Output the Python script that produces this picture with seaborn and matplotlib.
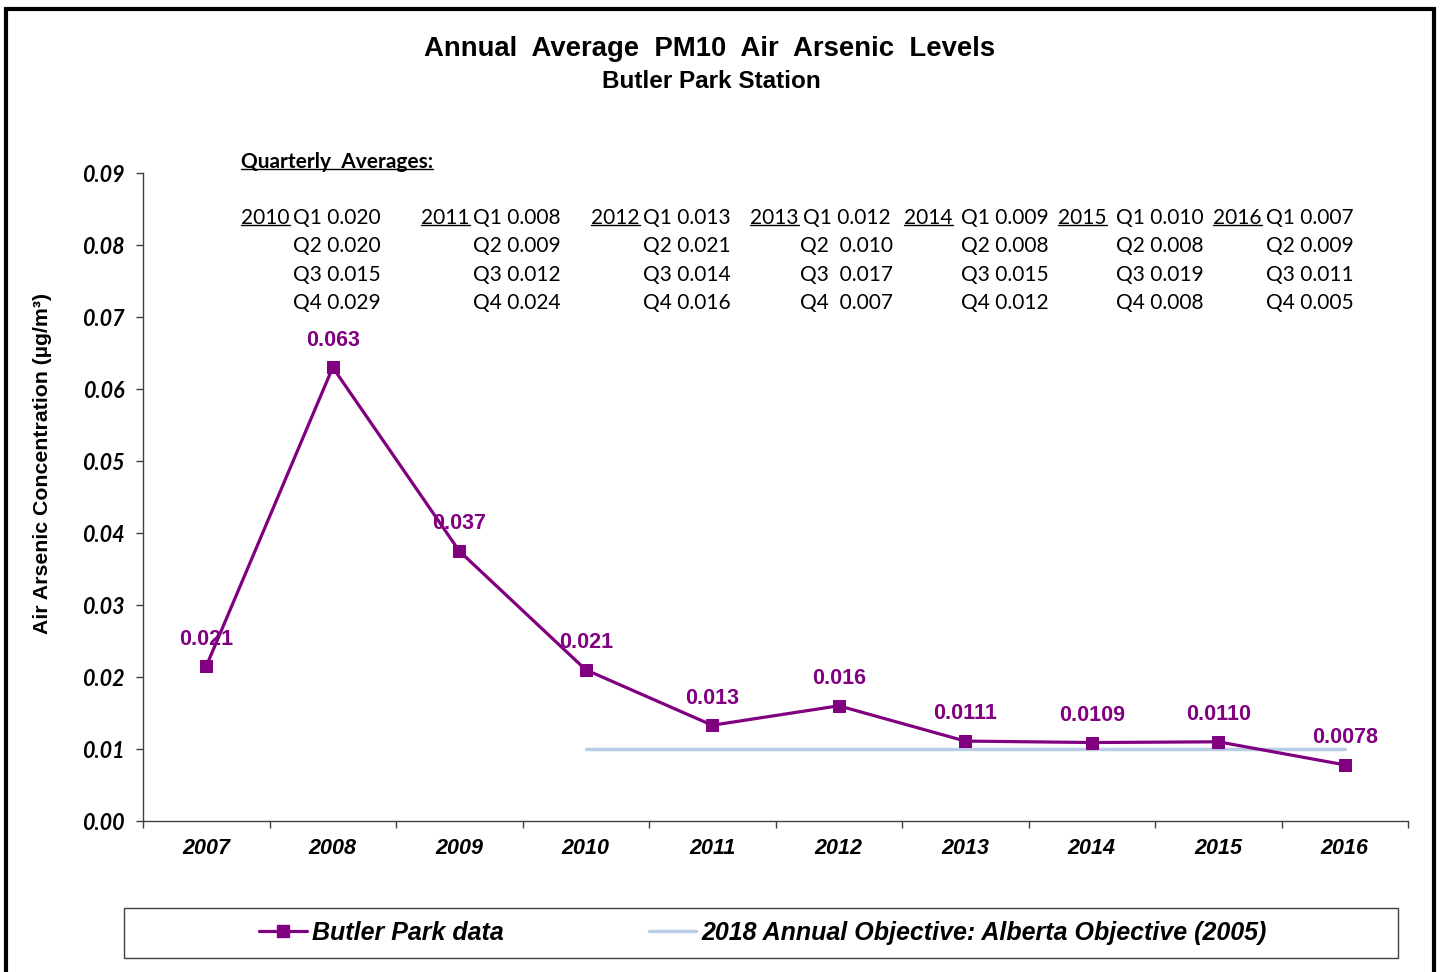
import matplotlib
matplotlib.use("Agg")
import matplotlib.pyplot as plt
from matplotlib import font_manager
from matplotlib.lines import Line2D
from matplotlib.patches import Rectangle
import numpy as np
import pandas as pd
import seaborn as sns

# annual averages (ug/m3)
years = ["2007", "2008", "2009", "2010", "2011", "2012", "2013", "2014", "2015", "2016"]
arsenic = [0.0215, 0.063, 0.0375, 0.021, 0.0133, 0.016, 0.0111, 0.0109, 0.0110, 0.0078]
point_labels = ["0.021", "0.063", "0.037", "0.021", "0.013", "0.016",
                "0.0111", "0.0109", "0.0110", "0.0078"]

objective_years = ["2010", "2011", "2012", "2013", "2014", "2015", "2016"]
objective_values = [0.01, 0.01, 0.01, 0.01, 0.01, 0.01, 0.01]

# quarterly averages shown as text
quarter_years = ["2010", "2011", "2012", "2013", "2014", "2015", "2016"]
q1 = ["Q1 0.020", "Q1 0.008", "Q1 0.013", "Q1 0.012", "Q1 0.009", "Q1 0.010", "Q1 0.007"]
q2 = ["Q2 0.020", "Q2 0.009", "Q2 0.021", "Q2  0.010", "Q2 0.008", "Q2 0.008", "Q2 0.009"]
q3 = ["Q3 0.015", "Q3 0.012", "Q3 0.014", "Q3  0.017", "Q3 0.015", "Q3 0.019", "Q3 0.011"]
q4 = ["Q4 0.029", "Q4 0.024", "Q4 0.016", "Q4  0.007", "Q4 0.012", "Q4 0.008", "Q4 0.005"]

PURPLE = "#800080"
OBJ_BLUE = "#B9CDE5"
W, H = 1440, 972

sns.set_theme(style="ticks")
plt.rcParams["font.family"] = ["Liberation Sans", "DejaVu Sans"]
plt.rcParams.update({"text.color": "black", "axes.labelcolor": "black",
                     "xtick.color": "black", "ytick.color": "black"})

installed = {f.name for f in font_manager.fontManager.ttflist}
narrow = "Liberation Sans Narrow" if "Liberation Sans Narrow" in installed else "Liberation Sans"


def fx(px):
    return px / W


def fy(py):
    return 1 - py / H


data = pd.DataFrame({"pos": np.arange(len(years)), "value": arsenic})
obj = pd.DataFrame({"pos": [years.index(y) for y in objective_years], "value": objective_values})

fig = plt.figure(figsize=(14.4, 9.72), dpi=100)
ax = fig.add_axes([fx(143), fy(821), (1408 - 143) / W, (821 - 173) / H])

sns.lineplot(data=obj, x="pos", y="value", color=OBJ_BLUE, linewidth=2.5, ax=ax)
sns.lineplot(data=data, x="pos", y="value", color=PURPLE, linewidth=2.3, marker="s",
             markersize=8.5, markeredgecolor=PURPLE, ax=ax)

for i, (v, lab) in enumerate(zip(arsenic, point_labels)):
    ax.annotate(lab, (i, v), xytext=(0, 19.5), textcoords="offset points", ha="center",
                va="center", color=PURPLE, fontsize=15.5, fontweight="bold")

ax.set_xlim(-0.5, len(years) - 0.5)
ax.set_ylim(0, 0.09)
ax.set_xticks(range(len(years)))
ax.set_xticklabels(years, fontsize=15.5, fontweight="bold", fontstyle="italic")
ax.set_xticks(np.arange(-0.5, len(years)), minor=True)
ax.tick_params(axis="x", which="major", length=0, pad=12)
ax.tick_params(axis="x", which="minor", length=5, width=1, color="#404040", direction="out")

yticks = np.arange(0, 0.091, 0.01)
ax.set_yticks(yticks)
ax.set_yticklabels([f"{t:.2f}" for t in yticks], fontfamily="Lato", fontweight="bold",
                   fontstyle="italic", fontsize=15.5)
ax.tick_params(axis="y", length=5, width=1, color="#404040", direction="out", pad=8)

sns.despine(ax=ax)
for s in ["left", "bottom"]:
    ax.spines[s].set_color("#404040")
    ax.spines[s].set_linewidth(1)

ax.set_xlabel("")
ax.set_ylabel("Air Arsenic Concentration (µg/m³)", fontsize=15.3, fontweight="bold")
ax.yaxis.set_label_coords(-0.072, 0.552)

fig.text(fx(710), fy(49), "Annual  Average  PM10  Air  Arsenic  Levels", ha="center",
         va="center", fontsize=19.8, fontweight="bold")
fig.text(fx(711), fy(81), "Butler Park Station", ha="center", va="center",
         fontsize=17.5, fontweight="bold")

underlined = []
header = fig.text(fx(241), fy(162), "Quarterly  Averages:", ha="left", va="center",
                  fontfamily="Lato", fontweight="bold", fontsize=15)
underlined.append(header)

year_x = [241, 421, 591, 750, 904, 1058, 1213]
q_x = [293, 473, 643, 800, 961, 1116, 1266]
row_y = [218, 246, 275, 303]
for k, yr in enumerate(quarter_years):
    t = fig.text(fx(year_x[k]), fy(row_y[0]), yr, ha="left", va="center",
                 fontfamily="Lato", fontsize=15)
    underlined.append(t)
    for r, rows in enumerate([q1, q2, q3, q4]):
        x_off = 3 if (k == 3 and r == 0) else 0
        fig.text(fx(q_x[k] + x_off), fy(row_y[r]), rows[k], ha="left", va="center",
                 fontfamily="Lato", fontsize=15)

fig.canvas.draw()
renderer = fig.canvas.get_renderer()
for t in underlined:
    bb = t.get_window_extent(renderer)
    y0 = bb.y0 + 0.17 * bb.height
    fig.add_artist(Line2D([bb.x0 / W, bb.x1 / W], [y0 / H, y0 / H],
                          transform=fig.transFigure, color="black", lw=1))

# legend box at the bottom
fig.add_artist(Rectangle((fx(124), fy(958)), (1398 - 124) / W, 50 / H, fill=False,
                         lw=1, edgecolor="#404040", transform=fig.transFigure))
handles = [Line2D([], [], color=PURPLE, lw=2.3, marker="s", markersize=8.5),
           Line2D([], [], color=OBJ_BLUE, lw=2.5)]
labels = ["Butler Park data", "2018 Annual Objective: Alberta Objective (2005)"]
fig.legend(handles, labels, loc="center", bbox_to_anchor=(fx(763), fy(933)), ncol=2,
           frameon=False, handlelength=1.9, handletextpad=0.2, columnspacing=5.8,
           prop=dict(family=narrow, weight="bold", style="italic", size=18))

# outer chart border
fig.add_artist(Rectangle((fx(6.5), -0.05), (1434 - 6.5) / W, fy(9.5) + 0.05, fill=False,
                         lw=3, edgecolor="black", transform=fig.transFigure))

fig.savefig("out.png", dpi=100)
